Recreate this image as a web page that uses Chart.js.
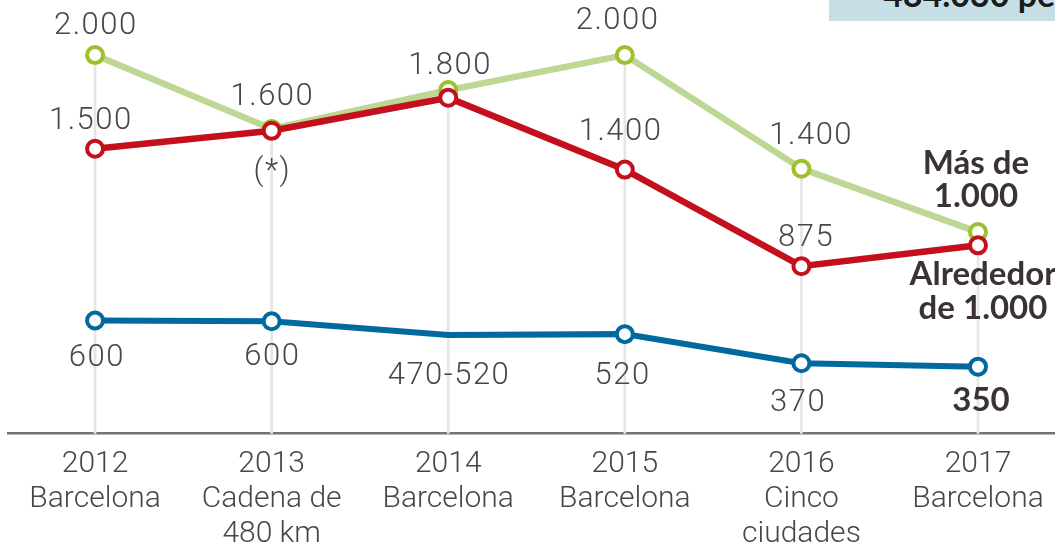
<!DOCTYPE html>
<html>
<head>
<meta charset="utf-8">
<script src="https://cdn.jsdelivr.net/npm/chart.js@4/dist/chart.umd.min.js"></script>
<style>
  html, body { margin: 0; padding: 0; background: #ffffff; overflow: hidden; }
  #wrap { position: relative; width: 1055px; height: 546px; overflow: hidden; }
  #caja { position: absolute; left: 829px; top: 0; width: 226px; height: 21px; background: #c6dfe7; overflow: hidden; }
  #caja span { position: absolute; left: 54px; top: -27px; font: 700 34px Lato, sans-serif; color: #1b1b1b; white-space: nowrap; }
</style>
</head>
<body>
<div id="wrap">
  <canvas id="c" width="1055" height="565"></canvas>
  <div id="caja"><span>484.030 personas</span></div>
</div>
<script>
// ---- datos ----
const anios = ['2012', '2013', '2014', '2015', '2016', '2017'];
const lugares = [['Barcelona'], ['Cadena de', '480 km'], ['Barcelona'], ['Barcelona'], ['Cinco', 'ciudades'], ['Barcelona']];
const verde = [2000, 1610, 1815, 2000, 1400, 1065];
const rojo = [1505, 1600, 1775, 1395, 885, 995];
const azul = [598, 594, 522, 526, 372, 354];
const etiquetasVerde = ['2.000', '1.600', '1.800', '2.000', '1.400', ['Más de', '1.000']];
const etiquetasRojo = ['1.500', '(*)', '', '1.400', '875', ['Alrededor', 'de 1.000']];
const etiquetasAzul = ['600', '600', '470-520', '520', '370', '350'];

// ---- posiciones de las etiquetas (desplazamiento respecto al punto) ----
const posVerde = [
  {dx: 0, dy: -32}, {dx: 0, dy: -35}, {dx: 1, dy: -27}, {dx: -8, dy: -37}, {dx: 9, dy: -36},
  {dx: -2, dy: -70, lh: 33, bold: true}
];
const posRojo = [
  {dx: -5, dy: -31}, {dx: 0, dy: 38}, null, {dx: -5, dy: -41}, {dx: 4, dy: -31},
  {dx: 5, dy: 28, lh: 34, bold: true}
];
const posAzul = [
  {dx: 1, dy: 34}, {dx: 0, dy: 33}, {dx: 0, dy: 38}, {dx: -3, dy: 39}, {dx: -4, dy: 37},
  {dx: 3, dy: 33, bold: true}
];

const pts = arr => arr.map((v, i) => ({x: i, y: v}));

const etiquetasPlugin = {
  id: 'etiquetas',
  afterDatasetsDraw(chart) {
    const ctx = chart.ctx;
    chart.data.datasets.forEach((ds, di) => {
      if (!ds.etiquetas) return;
      const meta = chart.getDatasetMeta(di);
      meta.data.forEach((el, i) => {
        const txt = ds.etiquetas[i];
        const pos = ds.posEtiquetas[i];
        if (!txt || !pos) return;
        const lines = Array.isArray(txt) ? txt : [txt];
        const size = pos.bold ? 33 : 31;
        ctx.save();
        ctx.font = pos.bold ? '700 33px Lato, sans-serif' : '300 31px Roboto, sans-serif';
        ctx.fillStyle = pos.bold ? '#3a3236' : '#4b4448';
        if (!pos.bold && 'letterSpacing' in ctx) ctx.letterSpacing = '1.5px';
        ctx.textAlign = 'center';
        ctx.textBaseline = 'alphabetic';
        lines.forEach((l, k) => {
          ctx.fillText(l, el.x + pos.dx + (pos.bold ? 0 : 0.75), el.y + pos.dy + k * (pos.lh || 0) + size * 0.355);
        });
        ctx.restore();
      });
    });
  }
};

new Chart(document.getElementById('c'), {
  data: {
    datasets: [
      {
        type: 'line', label: 'Rojo', data: pts(rojo),
        borderColor: '#c4101c', borderWidth: 6.5,
        pointBackgroundColor: '#ffffff', pointBorderColor: '#c4101c',
        pointRadius: 8, pointBorderWidth: 4, tension: 0,
        etiquetas: etiquetasRojo, posEtiquetas: posRojo
      },
      {
        type: 'line', label: 'Verde', data: pts(verde),
        borderColor: '#bdd795', borderWidth: 6.5,
        pointBackgroundColor: '#ffffff', pointBorderColor: '#9dc12c',
        pointRadius: 8, pointBorderWidth: 4, tension: 0,
        etiquetas: etiquetasVerde, posEtiquetas: posVerde
      },
      {
        type: 'line', label: 'Azul', data: pts(azul),
        borderColor: '#006a9e', borderWidth: 6,
        pointBackgroundColor: '#ffffff', pointBorderColor: '#006a9e',
        pointRadius: [8, 8, 0, 8, 8, 8], pointBorderWidth: 4, tension: 0,
        etiquetas: etiquetasAzul, posEtiquetas: posAzul
      },
      {
        type: 'bar', label: 'guia', data: pts(verde),
        backgroundColor: '#e6e6e6', barThickness: 2
      }
    ]
  },
  options: {
    responsive: false,
    devicePixelRatio: 1,
    animation: false,
    layout: { autoPadding: false, padding: { left: 8, right: 0, top: 0, bottom: 0 } },
    plugins: { legend: { display: false }, tooltip: { enabled: false } },
    scales: {
      x: {
        type: 'linear', min: -0.493, max: 5.436, offset: false,
        afterBuildTicks: axis => { axis.ticks = anios.map((a, i) => ({value: i})); },
        afterFit: s => { s.paddingLeft = 0; s.paddingRight = 0; },
        ticks: {
          callback: (v) => [anios[v]].concat(lugares[v]),
          font: { family: 'Roboto', weight: 300, size: 30, lineHeight: 1.17 },
          color: '#4b4448', padding: 13, maxRotation: 0, autoSkip: false
        },
        grid: { display: false, drawTicks: false, offset: false },
        border: { display: true, color: '#737373', width: 2.5 }
      },
      y: {
        display: false, min: 0, max: 2291
      }
    }
  },
  plugins: [etiquetasPlugin]
});
</script>
</body>
</html>
